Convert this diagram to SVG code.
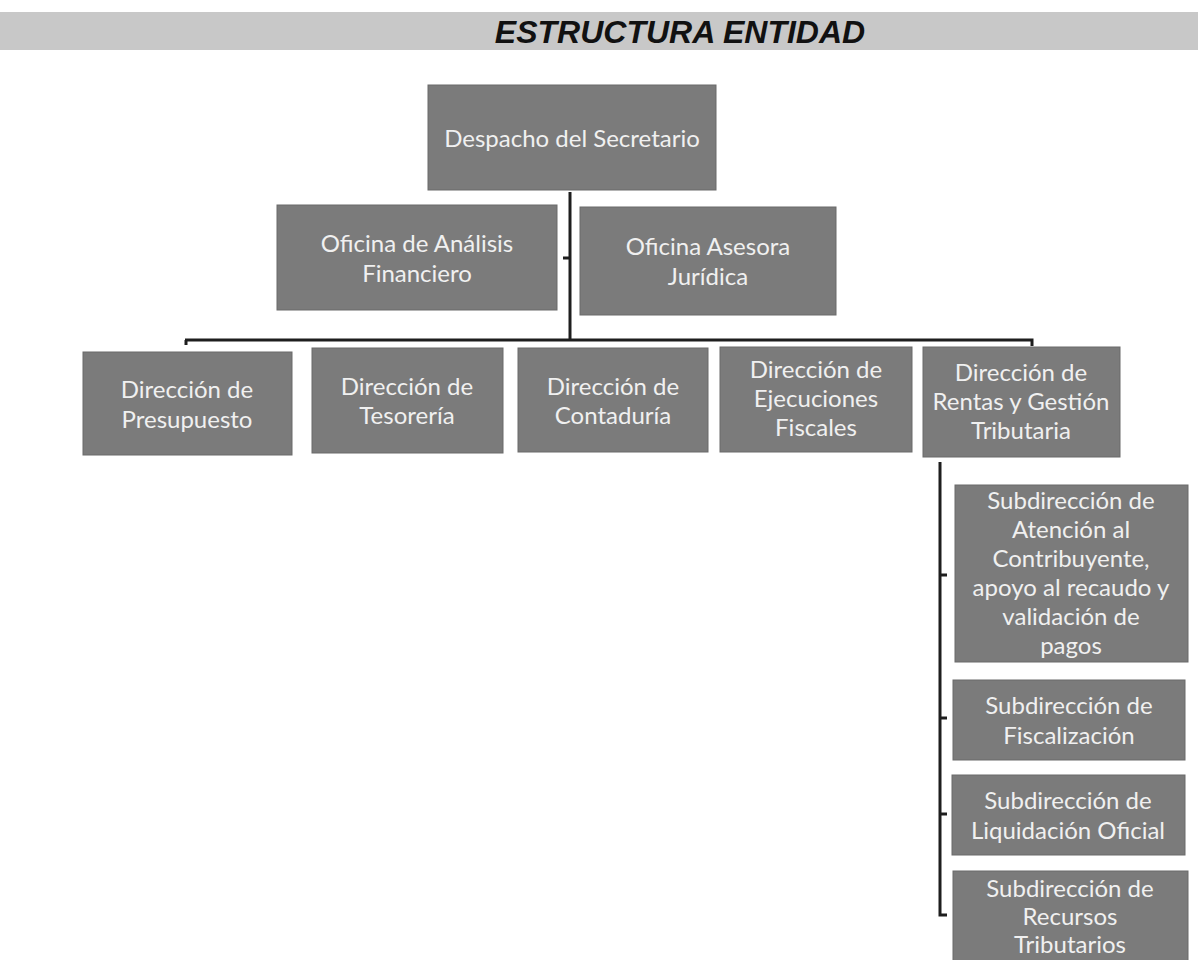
<svg xmlns="http://www.w3.org/2000/svg" width="1198" height="960" viewBox="0 0 1198 960">
<style>
.box{fill:#7b7b7b;stroke:#6a6a6a;stroke-width:1}
.t{font-family:Lato,"Open Sans",sans-serif;font-size:24px;fill:#f0f0f0;text-anchor:middle}
.ln{stroke:#1e1e1e;stroke-width:3;fill:none}
.title{font-family:"Liberation Sans",Arial,sans-serif;font-size:32px;font-weight:bold;font-style:italic;fill:#111;text-anchor:middle}
</style>
<rect width="1198" height="960" fill="#ffffff"/>
<rect x="0" y="12" width="1198" height="38" fill="#c8c8c8"/>
<text class="title" x="680" y="43">ESTRUCTURA ENTIDAD</text>
<g id="connectors">
<path class="ln" d="M570 192 V340"/>
<path class="ln" d="M563 258 H570"/>
<path class="ln" d="M185 340 H1032 V346"/>
<path class="ln" d="M186 340 V345"/>
<path class="ln" d="M940 462 V915 H947"/>
<path class="ln" d="M940 575 H947"/>
<path class="ln" d="M940 718 H947"/>
<path class="ln" d="M940 814 H947"/>
</g>
<g id="despacho"><rect class="box" x="428" y="85" width="288" height="105"/><text class="t" x="572" y="147">Despacho del Secretario</text></g>
<g id="analisis"><rect class="box" x="277" y="205" width="280" height="105"/><text class="t" x="417" y="252">Oficina de Análisis</text><text class="t" x="417" y="282">Financiero</text></g>
<g id="juridica"><rect class="box" x="580" y="207" width="256" height="108"/><text class="t" x="708" y="255">Oficina Asesora</text><text class="t" x="708" y="285">Jurídica</text></g>
<g id="presupuesto"><rect class="box" x="83" y="352" width="209" height="103"/><text class="t" x="187" y="398">Dirección de</text><text class="t" x="187" y="428">Presupuesto</text></g>
<g id="tesoreria"><rect class="box" x="312" y="348" width="191" height="105"/><text class="t" x="407" y="395">Dirección de</text><text class="t" x="407" y="424">Tesorería</text></g>
<g id="contaduria"><rect class="box" x="518" y="348" width="190" height="104"/><text class="t" x="613" y="395">Dirección de</text><text class="t" x="613" y="424">Contaduría</text></g>
<g id="ejecuciones"><rect class="box" x="720" y="347" width="192" height="105"/><text class="t" x="816" y="378">Dirección de</text><text class="t" x="816" y="407">Ejecuciones</text><text class="t" x="816" y="436">Fiscales</text></g>
<g id="rentas"><rect class="box" x="923" y="347" width="197" height="110"/><text class="t" x="1021" y="381">Dirección de</text><text class="t" x="1021" y="410">Rentas y Gestión</text><text class="t" x="1021" y="439">Tributaria</text></g>
<g id="atencion"><rect class="box" x="955" y="485" width="233" height="177"/>
<text class="t" x="1071" y="509">Subdirección de</text><text class="t" x="1071" y="538">Atención al</text><text class="t" x="1071" y="567">Contribuyente,</text><text class="t" x="1071" y="596">apoyo al recaudo y</text><text class="t" x="1071" y="625">validación de</text><text class="t" x="1071" y="654">pagos</text></g>
<g id="fiscalizacion"><rect class="box" x="953" y="680" width="232" height="80"/><text class="t" x="1069" y="714">Subdirección de</text><text class="t" x="1069" y="744">Fiscalización</text></g>
<g id="liquidacion"><rect class="box" x="952" y="775" width="233" height="80"/><text class="t" x="1068" y="809">Subdirección de</text><text class="t" x="1068" y="839">Liquidación Oficial</text></g>
<g id="recursos"><rect class="box" x="953" y="871" width="235" height="95"/><text class="t" x="1070" y="897">Subdirección de</text><text class="t" x="1070" y="925">Recursos</text><text class="t" x="1070" y="953">Tributarios</text></g>
</svg>
